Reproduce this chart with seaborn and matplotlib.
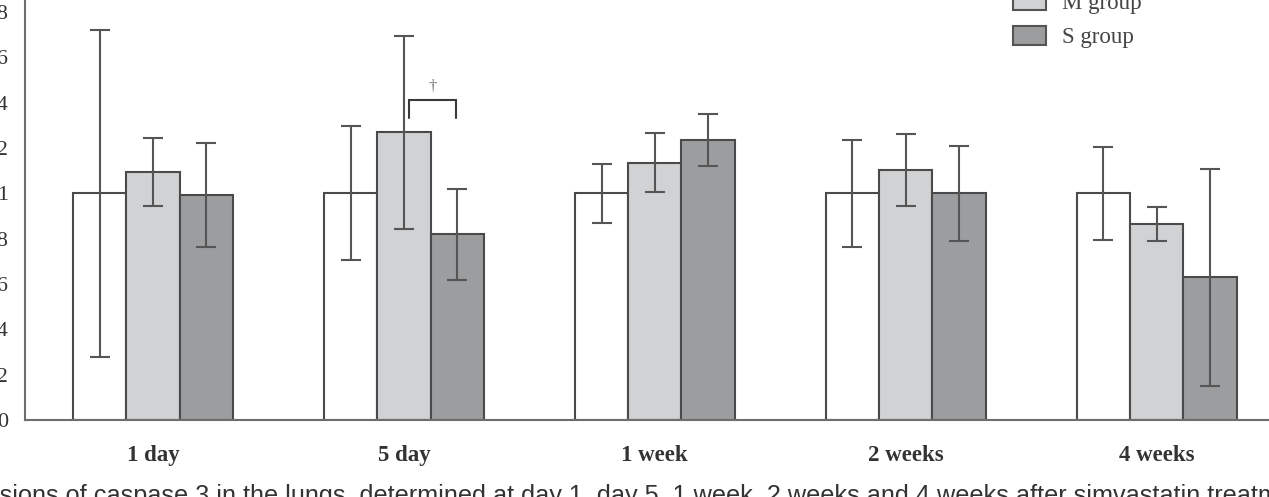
import numpy as np
import pandas as pd
import matplotlib
matplotlib.use("Agg")
import matplotlib.pyplot as plt
import matplotlib.patches as mpatches
from matplotlib.ticker import FixedLocator
import seaborn as sns

# values (relative caspase 3 expression, mean and SD)
times = ["1 day", "5 day", "1 week", "2 weeks", "4 weeks"]
groups = ["C group", "M group", "S group"]
c_mean = [1.0, 1.0, 1.0, 1.0, 1.0]
m_mean = [1.094, 1.269, 1.135, 1.103, 0.865]
s_mean = [0.991, 0.819, 1.234, 1.0, 0.629]
c_sd = [0.72, 0.295, 0.13, 0.235, 0.205]
m_sd = [0.15, 0.425, 0.13, 0.16, 0.075]
s_sd = [0.23, 0.20, 0.115, 0.21, 0.48]
yticks = [0, 0.2, 0.4, 0.6, 0.8, 1, 1.2, 1.4, 1.6, 1.8]
caption = ("Expressions of caspase 3 in the lungs, determined at day 1, day 5, "
           "1 week, 2 weeks and 4 weeks after simvastatin treatment.")

df = pd.DataFrame({
    "time": times * 3,
    "group": np.repeat(groups, len(times)),
    "value": c_mean + m_mean + s_mean,
    "sd": c_sd + m_sd + s_sd,
})

colors = ["#ffffff", "#d1d2d4", "#9c9d9f"]
edge = "#4a4a4a"
spine_col = "#6e6e6e"
err_col = "#555555"

sns.set_style("white")
plt.rcParams["font.family"] = ["Liberation Serif", "DejaVu Serif"]

W, H = 1269, 497
fig = plt.figure(figsize=(W / 100, H / 100), dpi=100)
# axes deliberately run past the top/right edge: the reference is a crop
ax = fig.add_axes([25 / W, 77 / H, (1284.6 - 25) / W, 453.4 / H])

sns.barplot(data=df, x="time", y="value", hue="group", palette=colors,
            width=0.637, gap=0, errorbar=None, saturation=1,
            edgecolor=edge, linewidth=1.5, legend=False, ax=ax)

for cont, g in zip(ax.containers, groups):
    sub = df[df["group"] == g]
    xs = [p.get_x() + p.get_width() / 2 for p in cont.patches]
    ys = [p.get_height() for p in cont.patches]
    ax.errorbar(xs, ys, yerr=sub["sd"].values, fmt="none", ecolor=err_col,
                elinewidth=1.5, capsize=7, capthick=1.5, zorder=3)

# significance bracket between M and S at 5 day
m_bar = ax.containers[1].patches[1]
s_bar = ax.containers[2].patches[1]
x0 = m_bar.get_x() + m_bar.get_width() / 2 + 0.022
x1 = s_bar.get_x() + s_bar.get_width() / 2 - 0.006
ax.plot([x0, x0, x1, x1], [1.332, 1.412, 1.412, 1.332], color="#3a3a3a",
        lw=1.5, solid_joinstyle="miter", zorder=3)
ax.text((x0 + x1) / 2, 1.435, "\u2020", ha="center", va="bottom",
        fontsize=12, color="#777777")

ax.set_xlim(-0.51, 4.51)
ax.set_ylim(0, 2.0)
ax.set_xlabel("")
ax.set_ylabel("")
ax.set_yticks(yticks)
ax.set_yticklabels([f"{v:g}" for v in yticks])
ax.xaxis.set_minor_locator(FixedLocator([0.5, 1.5, 2.5, 3.5, 4.5]))

ax.tick_params(axis="y", direction="in", length=10, width=1.5,
               color=spine_col, pad=12, labelsize=16, labelcolor="#333333")
ax.tick_params(axis="x", which="major", length=0, pad=18, labelsize=16.5,
               labelcolor="#333333")
ax.tick_params(axis="x", which="minor", direction="in", length=9,
               width=1.5, color=spine_col)
for lab in ax.get_xticklabels():
    lab.set_fontweight("bold")

sns.despine(ax=ax, top=True, right=True)
for sp in ("left", "bottom"):
    ax.spines[sp].set_color(spine_col)
    ax.spines[sp].set_linewidth(1.5)

handles = [mpatches.Patch(facecolor=c, edgecolor="#555555", lw=1.5)
           for c in colors]
fig.legend(handles, groups, loc="upper left",
           bbox_to_anchor=(1013 / W, 1 + 43 / H), frameon=False,
           borderpad=0, borderaxespad=0, fontsize=16.5, handlelength=1.42,
           handleheight=0.9, handletextpad=0.7, labelspacing=0.52,
           labelcolor="#444444")

# caption, cropped on both sides like the reference
cap_kw = dict(fontsize=18.2, family="Liberation Sans", color="#333333")
renderer = fig.canvas.get_renderer()
probe = fig.text(0, 0, "Expres", **cap_kw)
shift = probe.get_window_extent(renderer).width / W
probe.remove()
fig.text(-shift, -6 / H, caption, ha="left", va="baseline", **cap_kw)

fig.savefig("out.png", dpi=100)
